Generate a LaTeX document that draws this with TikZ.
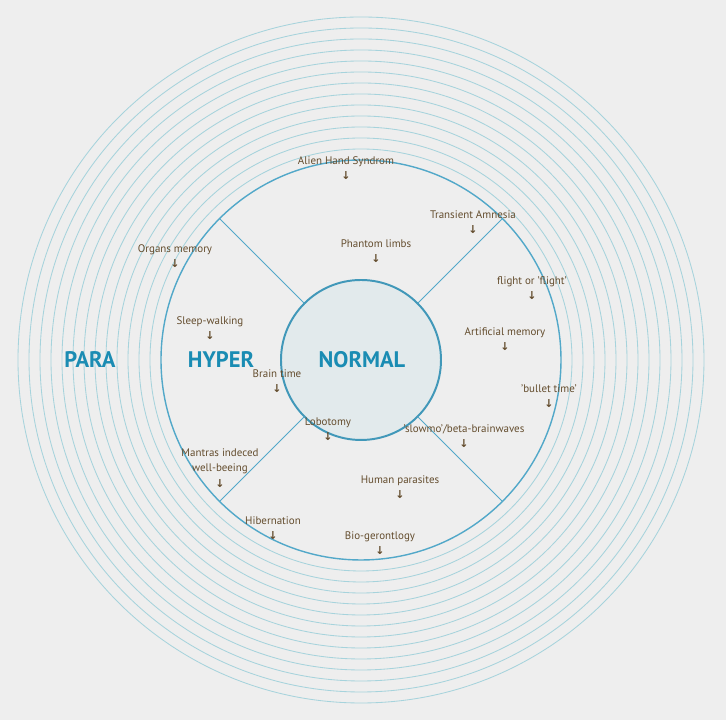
\documentclass[tikz,border=0pt]{standalone}
\usepackage{fontspec}
\setmainfont{PT Sans}
\newfontfamily\arrowfont{DejaVu Sans}
\definecolor{bgcol}{HTML}{EEEEEE}
\definecolor{ringcol}{HTML}{A6D3DC}
\definecolor{midcol}{HTML}{52A8C9}
\definecolor{innerfill}{HTML}{E2EAEC}
\definecolor{innercol}{HTML}{4198B9}
\definecolor{labelcol}{HTML}{644D2E}
\definecolor{zonecol}{HTML}{1A8CB3}
\tikzset{
	lbl/.style={text=labelcol, align=center, inner sep=0pt, font=\fontsize{7.8}{11}\selectfont},
	zone/.style={text=zonecol, inner sep=0pt, font=\fontsize{16}{20}\selectfont\bfseries},
	ring/.style={draw=ringcol, line width=0.6pt},
	divider/.style={draw=midcol, line width=0.6pt}
}
\begin{document}
\begin{tikzpicture}[x=0.025cm,y=0.025cm]
		\fill[bgcol] (-361,-360) rectangle (365,360);
		\foreach \r in {211,222,...,343}
			\draw[ring] (0,0) circle (\r);
		\draw[draw=midcol, line width=1pt] (0,0) circle (200);
		\filldraw[fill=innerfill, draw=innercol, line width=1.4pt] (0,0) circle (80);
		\draw[divider] (45:80)--(45:200);
		\draw[divider] (135:80)--(135:200);
		\draw[divider] (225:80)--(225:200);
		\draw[divider] (315:80)--(315:200);
		\node[zone] (para) at (-271,0) {PARA};
		\node[zone] (hyper) at (-140,0) {HYPER};
		\node[zone] (normal) at (1,0) {NORMAL};
		\node[lbl] (alien) at (-15,192) {Alien Hand Syndrom\\{\arrowfont\bfseries ↓}};
		\node[lbl] (amnesia) at (112,138) {Transient Amnesia\\{\arrowfont\bfseries ↓}};
		\node[lbl] (phantom) at (15,109) {Phantom limbs\\{\arrowfont\bfseries ↓}};
		\node[lbl] (organs) at (-186,104) {Organs memory\\{\arrowfont\bfseries ↓}};
		\node[lbl] (flight) at (171,72) {flight or 'flight'\\{\arrowfont\bfseries ↓}};
		\node[lbl] (sleep) at (-151,32) {Sleep-walking\\{\arrowfont\bfseries ↓}};
		\node[lbl] (artmem) at (144,21) {Artificial memory\\{\arrowfont\bfseries ↓}};
		\node[lbl] (brain) at (-84,-21) {Brain time\\{\arrowfont\bfseries ↓}};
		\node[lbl] (bullet) at (188,-36) {'bullet time'\\{\arrowfont\bfseries ↓}};
		\node[lbl] (lobotomy) at (-33,-69) {Lobotomy\\{\arrowfont\bfseries ↓}};
		\node[lbl] (slowmo) at (103,-76) {'slowmo'/beta-brainwaves\\{\arrowfont\bfseries ↓}};
		\node[lbl] (mantras) at (-141,-108) {Mantras indeced\\well-beeing\\{\arrowfont\bfseries ↓}};
		\node[lbl] (parasites) at (39,-127) {Human parasites\\{\arrowfont\bfseries ↓}};
		\node[lbl] (hibernation) at (-88,-168) {Hibernation\\{\arrowfont\bfseries ↓}};
		\node[lbl] (gerontlogy) at (19,-183) {Bio-gerontlogy\\{\arrowfont\bfseries ↓}};
	\end{tikzpicture}
\end{document}
